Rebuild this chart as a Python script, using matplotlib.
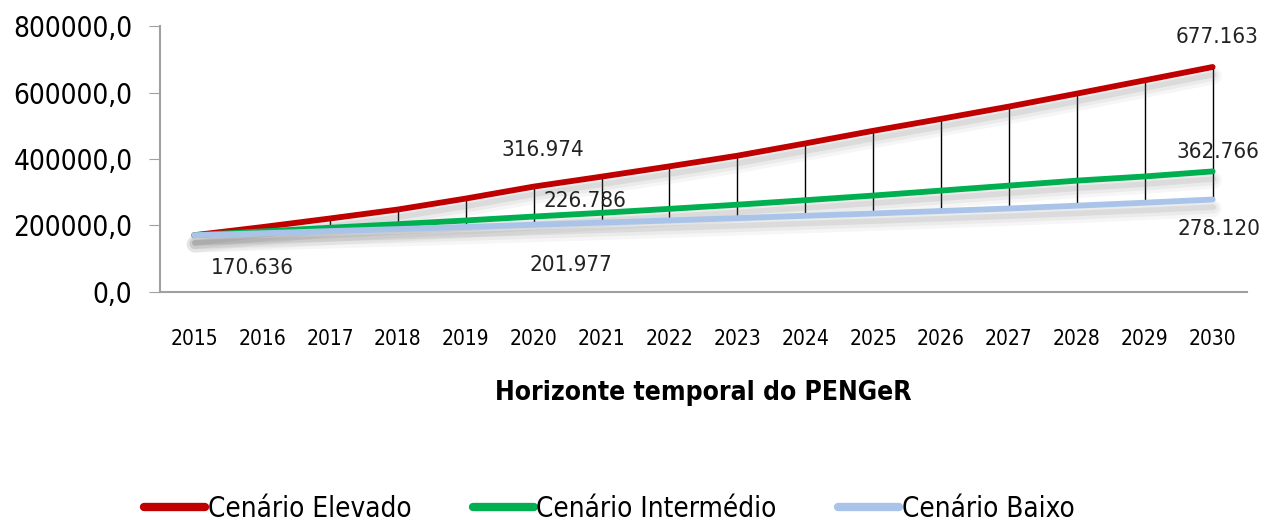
import matplotlib
matplotlib.use("Agg")
import matplotlib.pyplot as plt
import matplotlib.patheffects as pe
import numpy as np

years = [str(y) for y in range(2015, 2031)]
elevado = [170636, 195000, 221000, 248000, 281000, 316974, 347000, 378000,
           410000, 447000, 485000, 521000, 558000, 597000, 637000, 677163]
intermedio = [170636, 182000, 193000, 204000, 215000, 226786, 238000, 250000,
              262500, 276000, 290000, 305000, 320000, 335000, 347500, 362766]
baixo = [170636, 176500, 183000, 189000, 195500, 201977, 208500, 215000,
         222000, 229000, 236000, 243500, 251000, 259500, 268500, 278120]

series_names = ["Cenário Elevado", "Cenário Intermédio", "Cenário Baixo"]
colors = ["#c00000", "#00b050", "#a9c4e8"]

plt.rcParams['font.family'] = ['DejaVu Sans']
narrow = dict(family='DejaVu Sans', stretch='condensed')

fig = plt.figure(figsize=(12.72, 5.24), dpi=100)
ax = fig.add_axes([0.126, 0.443, 0.854, 0.507])

x = np.arange(len(years))

# high-low lines
ax.vlines(x, baixo, elevado, color='black', linewidth=1.0, zorder=2)

# soft shadow under each line
shadow = [pe.SimpleLineShadow(offset=(0.5, -6.5), shadow_color='#808080', alpha=0.07, linewidth=12),
          pe.SimpleLineShadow(offset=(0.5, -6), shadow_color='#808080', alpha=0.09, linewidth=8),
          pe.SimpleLineShadow(offset=(0.5, -5.5), shadow_color='#707070', alpha=0.13, linewidth=4),
          pe.Normal()]

for vals, name, c in zip([elevado, intermedio, baixo], series_names, colors):
    ax.plot(x, vals, color=c, linewidth=4.2, label=name, zorder=3,
            solid_capstyle='round', path_effects=shadow)

def lbl(xv, yv, val):
    ax.text(xv, yv, f"{val:,}".replace(",", "."), ha='center', va='center',
            fontsize=16, color='#222222', **narrow)

lbl(0.85, 72000, baixo[0])
lbl(5.13, 426000, elevado[5])
lbl(5.75, 274000, intermedio[5])
lbl(5.55, 80000, baixo[5])
lbl(15.06, 768000, elevado[-1])
lbl(15.08, 421000, intermedio[-1])
lbl(15.1, 190000, baixo[-1])

ax.set_xlim(-0.5, 15.5)
ax.set_ylim(0, 800000)
yt = np.arange(0, 800001, 200000)
ax.set_yticks(yt)
ax.set_yticklabels([f"{v:.1f}".replace(".", ",") for v in yt], fontsize=20, **narrow)
ax.set_xticks(x)
ax.set_xticklabels(years, fontsize=15, **narrow)
ax.tick_params(axis='y', length=8, color='#a0a0a0', pad=12)
ax.tick_params(axis='x', length=0, pad=27)
for s in ['top', 'right']:
    ax.spines[s].set_visible(False)
for s in ['left', 'bottom']:
    ax.spines[s].set_color('#a0a0a0')
    ax.spines[s].set_linewidth(1.5)

ax.set_xlabel("Horizonte temporal do PENGeR", fontsize=19, fontweight='bold',
              labelpad=22, **narrow)

leg = fig.legend(loc='lower center', bbox_to_anchor=(0.479, -0.045), ncol=3,
                 frameon=False, prop=dict(family='DejaVu Sans', stretch='condensed', size=20),
                 handlelength=2.2, handletextpad=0.1, columnspacing=2.2)
for h in leg.get_lines():
    h.set_linewidth(6)
    h.set_path_effects([])

fig.savefig("out.png", dpi=100)
